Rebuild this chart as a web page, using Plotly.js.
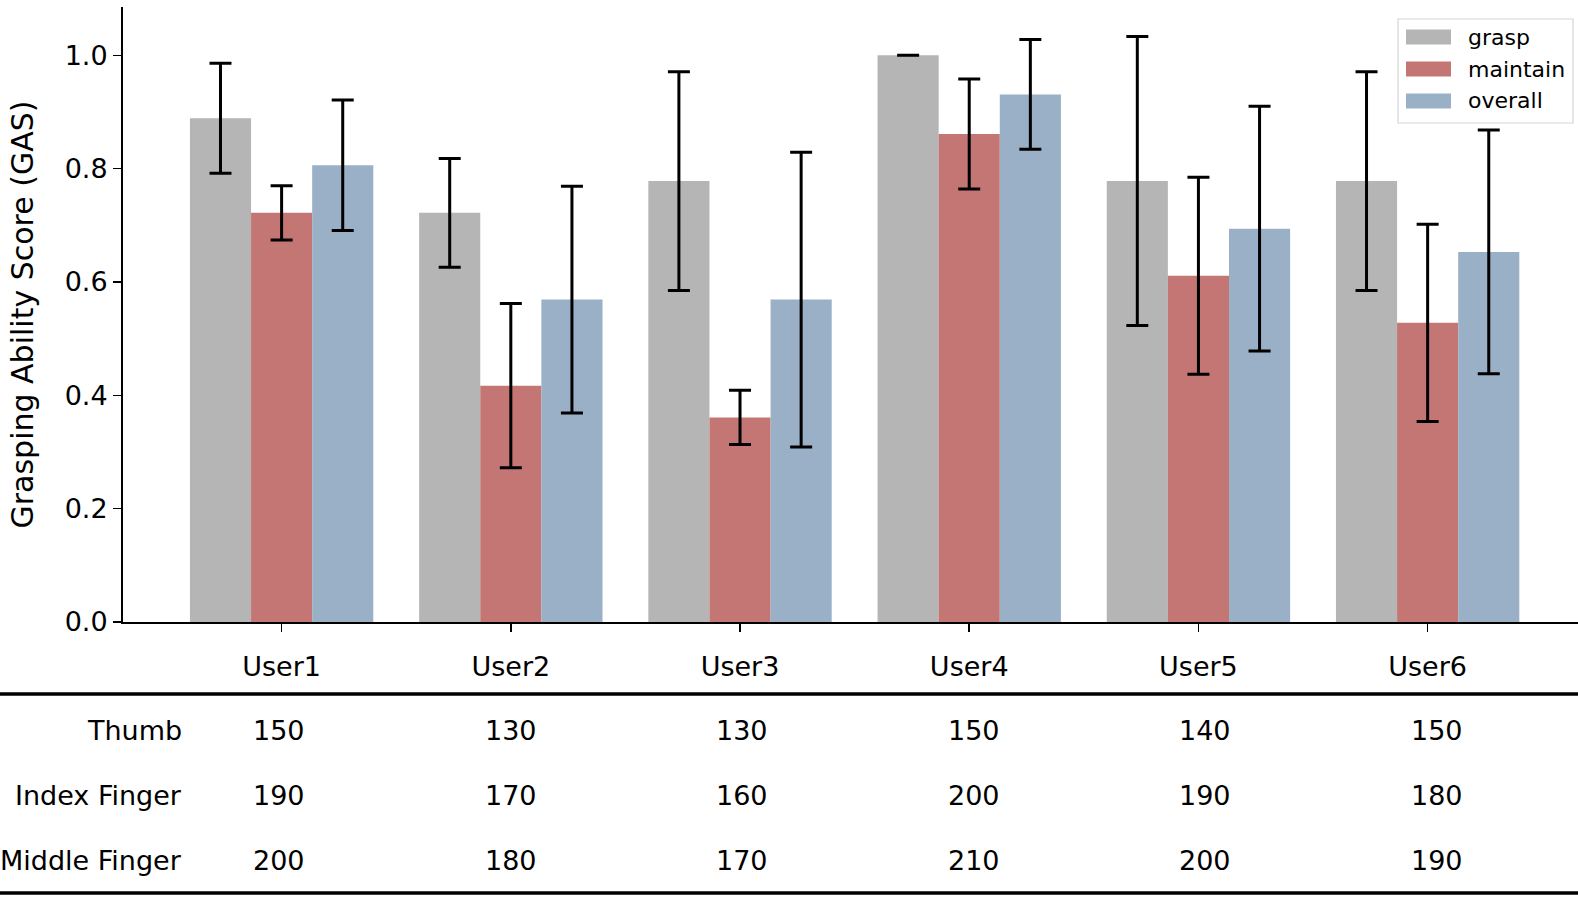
<!DOCTYPE html>
<html>
<head>
<meta charset="utf-8">
<script src="https://cdn.plot.ly/plotly-3.0.1.min.js"></script>
<style>
  html, body { margin: 0; padding: 0; background: #fff; }
  #chart { width: 1578px; height: 902px; }
</style>
</head>
<body>
<div id="chart"></div>
<script>
// chart values
var users = ['User1', 'User2', 'User3', 'User4', 'User5', 'User6'];
var seriesNames = ['grasp', 'maintain', 'overall'];
var seriesColors = ['#b5b5b5', '#c47674', '#9ab0c6'];

var graspMean    = [0.889, 0.722, 0.778, 1.000, 0.778, 0.778];
var graspErr     = [0.097, 0.096, 0.193, 0.000, 0.255, 0.193];
var maintainMean = [0.722, 0.417, 0.361, 0.861, 0.611, 0.528];
var maintainErr  = [0.048, 0.145, 0.048, 0.097, 0.174, 0.174];
var overallMean  = [0.806, 0.569, 0.569, 0.931, 0.694, 0.653];
var overallErr   = [0.115, 0.200, 0.260, 0.097, 0.216, 0.215];

// table under the chart
var rowLabels = ['Thumb', 'Index Finger', 'Middle Finger'];
var thumbVals  = [150, 130, 130, 150, 140, 150];
var indexVals  = [190, 170, 160, 200, 190, 180];
var middleVals = [200, 180, 170, 210, 200, 190];

var means = [graspMean, maintainMean, overallMean];
var errs = [graspErr, maintainErr, overallErr];
var tableRows = [thumbVals, indexVals, middleVals];

var FONT = 'DejaVu Sans, sans-serif';
var W = 1578, H = 902;
var mL = 123, mR = 0, mT = 7, mB = 280;
var plotW = W - mL - mR, plotH = H - mT - mB;

// pixel -> paper helpers (only used for the table and legend placement)
function px(x) { return (x - mL) / plotW; }
function py(y) { return (H - mB - y) / plotH; }

var traces = seriesNames.map(function (name, i) {
    return {
        type: 'bar',
        name: name,
        x: users,
        y: means[i],
        marker: { color: seriesColors[i], line: { width: 0 } },
        error_y: {
            type: 'data',
            array: errs[i],
            visible: true,
            color: '#000',
            thickness: 3,
            width: 11
        },
        showlegend: false
    };
});

var shapes = [];
var annotations = [];

// table rules
[694, 893].forEach(function (y) {
    shapes.push({
        type: 'line', xref: 'paper', yref: 'paper',
        x0: px(0), x1: px(W), y0: py(y), y1: py(y),
        line: { color: '#000', width: 3.5 }
    });
});

// table cells
var rowY = [730, 795, 860];
var colX0 = 279, colStep = 231.6;
rowLabels.forEach(function (lab, r) {
    annotations.push({
        xref: 'paper', yref: 'paper', x: px(184), y: py(rowY[r]),
        xanchor: 'right', yanchor: 'middle', showarrow: false,
        text: lab, font: { family: FONT, size: 27, color: '#000' }
    });
    tableRows[r].forEach(function (v, c) {
        annotations.push({
            xref: 'paper', yref: 'paper', x: px(colX0 + c * colStep), y: py(rowY[r]),
            xanchor: 'center', yanchor: 'middle', showarrow: false,
            text: String(v), font: { family: FONT, size: 27, color: '#000' }
        });
    });
});

// legend (drawn by hand to get matplotlib-like swatches)
shapes.push({
    type: 'rect', xref: 'paper', yref: 'paper',
    x0: px(1398), x1: px(1573), y0: py(19), y1: py(123),
    fillcolor: 'rgba(255,255,255,0.8)', line: { color: '#d5d5d5', width: 1.2 }
});
seriesNames.forEach(function (name, i) {
    var cy = 37 + i * 32;
    shapes.push({
        type: 'rect', xref: 'paper', yref: 'paper',
        x0: px(1406), x1: px(1451), y0: py(cy - 7.5), y1: py(cy + 7.5),
        fillcolor: seriesColors[i], line: { width: 0 }
    });
    annotations.push({
        xref: 'paper', yref: 'paper', x: px(1466), y: py(cy),
        xanchor: 'left', yanchor: 'middle', showarrow: false,
        text: name, font: { family: FONT, size: 22, color: '#000' }
    });
});

var layout = {
    width: W,
    height: H,
    margin: { l: mL, r: mR, t: mT, b: mB, pad: 0 },
    paper_bgcolor: '#fff',
    plot_bgcolor: '#fff',
    font: { family: FONT, size: 27, color: '#000' },
    barmode: 'group',
    bargap: 0.2,
    bargroupgap: 0,
    showlegend: false,
    xaxis: {
        type: 'category',
        range: [-0.692, 5.656],
        showline: true, linecolor: '#000', linewidth: 2,
        ticks: 'outside', ticklen: 8, tickwidth: 1.5, tickcolor: '#000',
        ticklabelstandoff: 12,
        showgrid: false, zeroline: false,
        tickfont: { family: FONT, size: 27 }
    },
    yaxis: {
        range: [0, plotH / 566.7],
        tickvals: [0, 0.2, 0.4, 0.6, 0.8, 1.0],
        tickformat: '.1f',
        showline: true, linecolor: '#000', linewidth: 2,
        ticks: 'outside', ticklen: 8, tickwidth: 1.5, tickcolor: '#000',
        showgrid: false, zeroline: false,
        tickfont: { family: FONT, size: 27 },
        title: { text: 'Grasping Ability Score (GAS)', font: { family: FONT, size: 30 }, standoff: 22 }
    },
    shapes: shapes,
    annotations: annotations
};

Plotly.newPlot('chart', traces, layout, { displayModeBar: false, staticPlot: true });
</script>
</body>
</html>
